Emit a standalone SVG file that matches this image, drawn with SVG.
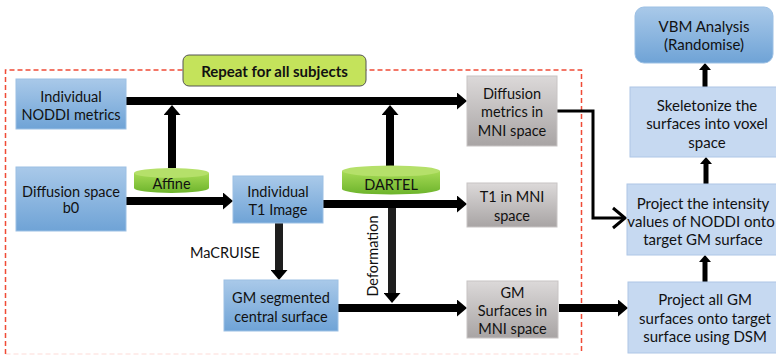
<svg xmlns="http://www.w3.org/2000/svg" width="776" height="355" viewBox="0 0 776 355">
  <defs>
    <linearGradient id="gBlue" x1="0" y1="0" x2="0" y2="1">
      <stop offset="0" stop-color="#a9c9e9"/>
      <stop offset="1" stop-color="#6fa3d6"/>
    </linearGradient>
    <linearGradient id="gGray" x1="0" y1="0" x2="0" y2="1">
      <stop offset="0" stop-color="#dcd9d9"/>
      <stop offset="1" stop-color="#a8a4a4"/>
    </linearGradient>
    <linearGradient id="gGreen" x1="0" y1="0" x2="0" y2="1">
      <stop offset="0" stop-color="#a6da55"/>
      <stop offset="1" stop-color="#6db42c"/>
    </linearGradient>
    <marker id="head" markerUnits="userSpaceOnUse" markerWidth="10" markerHeight="17" refX="0" refY="8.5" orient="auto">
      <path d="M0,0 L10,8.5 L0,17 z" fill="#000"/>
    </marker>
    <marker id="headS" markerUnits="userSpaceOnUse" markerWidth="7" markerHeight="12" refX="0" refY="6" orient="auto">
      <path d="M0,0 L7,6 L0,12 z" fill="#000"/>
    </marker>
    <style>
      text { font-family: Lato, "Open Sans", "Liberation Sans", sans-serif; font-size: 14.5px; fill: #111; text-anchor: middle; }
      .b { font-weight: bold; font-size: 15px; }
      .r { font-size: 15px; }
      .blue { fill: url(#gBlue); stroke: #9cc0e4; stroke-width: 1; }
      .gray { fill: url(#gGray); stroke: #c8c4c4; stroke-width: 1; }
      .light { fill: #c6d9f1; stroke: #aec6e6; stroke-width: 1; }
      .thick { stroke: #000; stroke-width: 8; fill: none; marker-end: url(#head); }
      .dark { stroke: #1e1e1e; stroke-width: 8; fill: none; marker-end: url(#head); }
      .small { stroke: #000; stroke-width: 5; fill: none; marker-end: url(#headS); }
      .thin { stroke: #000; stroke-width: 3; fill: none; }
    </style>
  </defs>

  <rect width="776" height="355" fill="#fff"/>

  <!-- subject loop frame -->
  <g id="loop-frame">
    <path d="M5.5,354 V70 H581.5 V354" fill="none" stroke="#f04b37" stroke-width="1.5" stroke-dasharray="5,3"/>
    <path d="M5.5,354 H581.5" fill="none" stroke="#f04b37" stroke-width="1.2" stroke-dasharray="5,3" stroke-opacity="0.2"/>
  </g>

  <!-- connectors -->
  <g id="connectors">
    <line class="thick" x1="126" y1="101" x2="457" y2="101"/>
    <line class="thick" x1="172" y1="168" x2="172" y2="115"/>
    <line class="thick" x1="390" y1="166" x2="390" y2="115"/>
    <line class="thick" x1="126" y1="201" x2="223" y2="201"/>
    <line class="thick" x1="323" y1="204" x2="457" y2="204"/>
    <line class="dark" x1="392" y1="208" x2="392" y2="293"/>
    <line class="dark" x1="279" y1="223" x2="279" y2="270"/>
    <line class="thick" x1="338" y1="308" x2="457" y2="308"/>
    <line class="thick" x1="559" y1="308" x2="618" y2="308"/>
    <polyline class="thin" points="557,111 593,111 593,218 624,218"/>
    <polyline class="thin" points="613,208 625,218 613,228"/>
    <line class="small" x1="705" y1="87" x2="705" y2="70"/>
    <line class="small" x1="706" y1="184" x2="706" y2="164"/>
    <line class="small" x1="705" y1="282" x2="705" y2="262"/>
  </g>

  <g id="repeat-label">
    <rect x="183" y="55" width="183" height="31" rx="6" fill="#c4e35b" stroke="#555" stroke-width="1"/>
    <text class="b" x="274.5" y="77">Repeat for all subjects</text>
  </g>

  <g id="noddi">
    <rect class="blue" x="16" y="79" width="110" height="50"/>
    <text x="71" y="102">Individual</text>
    <text x="71" y="120">NODDI metrics</text>
  </g>

  <g id="b0">
    <rect class="blue" x="16" y="167" width="110" height="64"/>
    <text x="71" y="197">Diffusion space</text>
    <text x="71" y="213">b0</text>
  </g>

  <g id="affine">
    <path d="M134,173 V188 A37.5,5 0 0 0 209,188 V173 z" fill="url(#gGreen)"/>
    <ellipse cx="171.5" cy="173" rx="37.5" ry="5" fill="#b5e06a"/>
    <text x="171.5" y="189">Affine</text>
  </g>

  <g id="t1">
    <rect class="blue" x="233" y="176" width="90" height="47"/>
    <text x="278" y="197">Individual</text>
    <text x="278" y="215">T1 Image</text>
  </g>

  <g id="dartel">
    <path d="M342,171 V189 A49,5.5 0 0 0 440,189 V171 z" fill="url(#gGreen)"/>
    <ellipse cx="391" cy="171" rx="49" ry="5.5" fill="#b5e06a"/>
    <text x="391" y="190">DARTEL</text>
  </g>

  <g id="macruise-label">
    <text x="225" y="258">MaCRUISE</text>
  </g>

  <g id="deformation-label">
    <text transform="translate(378,256) rotate(-90)">Deformation</text>
  </g>

  <g id="gm-seg">
    <rect class="blue" x="224" y="280" width="114" height="51"/>
    <text x="281" y="303">GM segmented</text>
    <text x="281" y="322">central surface</text>
  </g>

  <g id="diff-mni">
    <rect class="gray" x="467" y="76" width="90" height="70"/>
    <text x="512" y="99">Diffusion</text>
    <text x="512" y="117">metrics in</text>
    <text x="512" y="136">MNI space</text>
  </g>

  <g id="t1-mni">
    <rect class="gray" x="467" y="183" width="90" height="44"/>
    <text x="512" y="202">T1 in MNI</text>
    <text x="512" y="221">space</text>
  </g>

  <g id="gm-mni">
    <rect class="gray" x="467" y="281" width="91" height="57"/>
    <text x="512.5" y="298">GM</text>
    <text x="512.5" y="316">Surfaces in</text>
    <text x="512.5" y="334">MNI space</text>
  </g>

  <g id="vbm">
    <rect x="635" y="7" width="138" height="56" rx="9" fill="url(#gBlue)" stroke="#9cc0e4" stroke-width="1"/>
    <text class="r" x="704" y="32">VBM Analysis</text>
    <text class="r" x="704" y="50">(Randomise)</text>
  </g>

  <g id="skeletonize">
    <rect class="light" x="630" y="87" width="150" height="70"/>
    <text class="r" x="707" y="111">Skeletonize the</text>
    <text class="r" x="707" y="129">surfaces into voxel</text>
    <text class="r" x="707" y="148">space</text>
  </g>

  <g id="project-noddi">
    <rect class="light" x="627" y="184" width="153" height="71"/>
    <text class="r" x="703" y="209">Project the intensity</text>
    <text class="r" x="701" y="227">values of NODDI onto</text>
    <text class="r" x="703" y="245">target GM surface</text>
  </g>

  <g id="project-gm">
    <rect class="light" x="628" y="282" width="152" height="71"/>
    <text class="r" x="705" y="305">Project all GM</text>
    <text class="r" x="705" y="324">surfaces onto target</text>
    <text class="r" x="705" y="342">surface using DSM</text>
  </g>
</svg>
